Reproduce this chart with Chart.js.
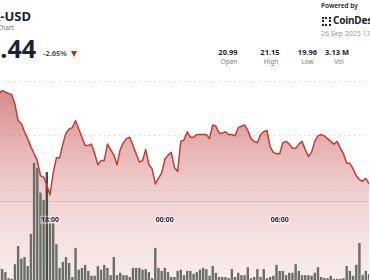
<!DOCTYPE html>
<html><head><meta charset="utf-8">
<script src="https://cdn.jsdelivr.net/npm/chart.js@4"></script>
<style>
html,body{margin:0;padding:0;background:#fff;}
#wrap{position:relative;width:370px;height:280px;overflow:hidden;font-family:"Noto Sans",sans-serif;color:#1b2233;background:#fff;}
.t{position:absolute;white-space:nowrap;}
.st{position:absolute;width:40px;text-align:center;white-space:nowrap;}
.sv{font-size:7.5px;line-height:7.5px;font-weight:700;color:#1b2233;}
.sl{font-size:6.5px;line-height:6.5px;color:#7a7f88;}
#cw{position:absolute;left:-1px;top:81px;width:370px;height:199px;}
</style></head><body>
<div id="wrap">
  <div class="t" style="right:339px;top:9.8px;font-size:13px;line-height:13px;font-weight:700;">LINK-USD</div>
  <div class="t" style="right:356px;top:25px;font-size:6.5px;line-height:6.5px;color:#6b707a;">Chainlink Chart</div>
  <div class="t" style="right:334px;top:35.8px;font-size:25px;line-height:25px;font-weight:700;">20.44</div>
  <div class="t" style="left:43px;top:50.2px;font-size:7.5px;line-height:7.5px;font-weight:600;color:#3a3f4a;">-2.65%</div>
  <div style="position:absolute;left:70.5px;top:51px;width:0;height:0;border-left:3.5px solid transparent;border-right:3.5px solid transparent;border-top:6px solid #c62a1f;"></div>

  <div class="t" style="left:321px;top:2.9px;font-size:6.5px;line-height:6.5px;font-weight:600;color:#1b2233;">Powered by</div>
  <div style="position:absolute;left:321.5px;top:16.5px;width:5px;height:5px;border:2px dotted #1b2233;"></div>
  <div class="t" style="left:333px;top:15.2px;font-size:10px;line-height:10px;font-weight:700;color:#1b2233;letter-spacing:-0.2px;">CoinDesk</div>
  <div class="t" style="left:321px;top:29.6px;font-size:7px;line-height:7px;color:#9a9ea6;">26 Sep 2025 13:40 UTC</div>

  <div class="st sv" style="left:208px;top:49.3px;">20.99</div>
  <div class="st sl" style="left:209px;top:59px;">Open</div>
  <div class="st sv" style="left:250px;top:49.3px;">21.15</div>
  <div class="st sl" style="left:251px;top:59px;">High</div>
  <div class="st sv" style="left:287.5px;top:49.3px;">19.96</div>
  <div class="st sl" style="left:287.5px;top:59px;">Low</div>
  <div class="st sv" style="left:317px;top:49.3px;">3.13 M</div>
  <div class="st sl" style="left:319px;top:59px;">Vol</div>

  <div id="cw"><canvas id="c" width="370" height="199"></canvas></div>
</div>
<script>
const times = [
 "15:20","15:30","15:40","15:50",
 "16:00","16:10","16:20","16:30","16:40","16:50",
 "17:00","17:10","17:20","17:30","17:40","17:50",
 "18:00","18:10","18:20","18:30","18:40","18:50",
 "19:00","19:10","19:20","19:30","19:40","19:50",
 "20:00","20:10","20:20","20:30","20:40","20:50",
 "21:00","21:10","21:20","21:30","21:40","21:50",
 "22:00","22:10","22:20","22:30","22:40","22:50",
 "23:00","23:10","23:20","23:30","23:40","23:50",
 "00:00","00:10","00:20","00:30","00:40","00:50",
 "01:00","01:10","01:20","01:30","01:40","01:50",
 "02:00","02:10","02:20","02:30","02:40","02:50",
 "03:00","03:10","03:20","03:30","03:40","03:50",
 "04:00","04:10","04:20","04:30","04:40","04:50",
 "05:00","05:10","05:20","05:30","05:40","05:50",
 "06:00","06:10","06:20","06:30","06:40","06:50",
 "07:00","07:10","07:20","07:30","07:40","07:50",
 "08:00","08:10","08:20","08:30","08:40","08:50",
 "09:00","09:10","09:20","09:30","09:40","09:50",
 "10:00","10:10","10:20","10:30","10:40"
];
const tickLabels = ["18:00","00:00","06:00"];
const priceGridValues = [20.4, 20.8, 21.2];
const prices = [
 21.11,21.13,21.12,21.11,21.10,21.03,20.91,20.89,20.83,20.78,
 20.72,20.67,20.62,20.51,20.50,20.44,20.37,20.53,20.64,20.64,
 20.74,20.82,20.85,20.86,20.91,20.85,20.79,20.73,20.73,20.74,
 20.67,20.59,20.62,20.62,20.74,20.70,20.66,20.59,20.70,20.75,
 20.78,20.79,20.73,20.67,20.61,20.62,20.70,20.59,20.56,20.45,
 20.49,20.53,20.63,20.66,20.68,20.57,20.54,20.76,20.77,20.83,
 20.79,20.79,20.81,20.81,20.81,20.81,20.78,20.88,20.87,20.82,
 20.82,20.83,20.81,20.81,20.80,20.86,20.87,20.88,20.84,20.78,
 20.76,20.75,20.81,20.83,20.84,20.72,20.68,20.67,20.67,20.75,
 20.76,20.74,20.71,20.71,20.74,20.76,20.70,20.65,20.68,20.76,
 20.80,20.81,20.80,20.78,20.76,20.74,20.76,20.71,20.67,20.60,
 20.60,20.56,20.51,20.48,20.47,20.49,20.45
];
const volumesK = [
 21,18,13,3,2,26,56,35,38,23,
 76,193,185,144,132,178,94,94,59,20,
 30,38,28,5,53,17,20,25,15,7,
 7,23,17,25,20,8,38,8,12,8,
 8,5,20,20,20,17,18,13,3,53,
 20,15,20,13,5,5,15,17,8,15,
 15,10,13,17,20,18,7,23,12,5,
 5,5,3,18,5,12,8,8,21,3,
 5,18,5,18,3,5,7,25,15,15,
 8,12,12,26,15,8,8,8,7,12,
 21,5,3,3,7,2,2,2,3,23,
 15,7,25,61,8,15,10
];

const ctx = document.getElementById('c').getContext('2d');
function fillGrad(context){
  const ca = context.chart.chartArea;
  if (!ca) return 'rgba(200,80,80,0.3)';
  const g = context.chart.ctx.createLinearGradient(0, ca.top, 0, ca.bottom);
  g.addColorStop(0, 'rgba(185,55,55,0.62)');
  g.addColorStop(0.55, 'rgba(205,95,95,0.30)');
  g.addColorStop(1, 'rgba(220,120,120,0.13)');
  return g;
}
new Chart(ctx, {
  data: {
    labels: times,
    datasets: [
      {
        type: 'line',
        data: prices,
        yAxisID: 'y',
        borderColor: '#c83a30',
        borderWidth: 1.5,
        pointRadius: 0,
        tension: 0,
        borderJoinStyle: 'round',
        fill: 'start',
        backgroundColor: fillGrad,
        order: 1
      },
      {
        type: 'bar',
        data: volumesK,
        yAxisID: 'y1',
        backgroundColor: (c) => c.dataIndex === 15 ? '#3e5242' : '#6a7068',
        borderWidth: 0,
        barPercentage: 0.76,
        categoryPercentage: 1,
        order: 2
      }
    ]
  },
  options: {
    responsive: false,
    animation: false,
    events: [],
    layout: { padding: 0 },
    plugins: {
      legend: { display: false },
      tooltip: { enabled: false },
      filler: { drawTime: 'beforeDatasetsDraw' }
    },
    scales: {
      x: {
        type: 'category',
        offset: false,
        position: { y: 20.32 },
        grid: {
          display: true,
          drawOnChartArea: false,
          drawTicks: true,
          tickLength: 7,
          tickWidth: 1,
          tickColor: (c) => tickLabels.includes(times[c.index]) ? 'rgba(60,60,70,0.7)' : 'rgba(0,0,0,0)',
          tickBorderDash: [0, 6, 1, 0]
        },
        border: { display: true, color: 'rgba(0,0,0,0.13)', width: 1, dash: [1, 3] },
        ticks: {
          z: 1,
          autoSkip: false,
          maxRotation: 0,
          padding: 7,
          color: '#2a3040',
          font: { family: 'Noto Sans', size: 7, weight: 'bold' },
          showLabelBackdrop: true,
          backdropColor: 'rgba(255,255,255,0.35)',
          backdropPadding: { top: 0, bottom: 0, left: 1, right: 1 },
          callback: (v, i) => tickLabels.includes(times[i]) ? times[i] : null
        }
      },
      y: {
        position: 'left',
        min: 19.75,
        max: 21.2,
        afterBuildTicks: (s) => { s.ticks = priceGridValues.map(v => ({ value: v })); },
        grid: { display: true, drawTicks: false, color: 'rgba(0,0,0,0.16)', lineWidth: 1 },
        border: { display: false, dash: [1.5, 3.5] },
        ticks: { display: false }
      },
      y1: {
        display: false,
        min: 0,
        max: 328
      }
    }
  }
});
</script>
</body></html>
